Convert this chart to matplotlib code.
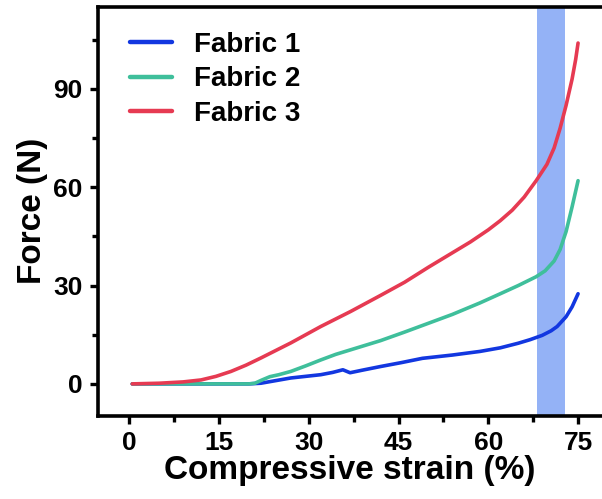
import matplotlib
matplotlib.use("Agg")
import matplotlib.pyplot as plt
from matplotlib.ticker import MultipleLocator

plt.rcParams['font.family'] = ['Liberation Sans', 'DejaVu Sans']
plt.rcParams['font.weight'] = 'bold'

# Fabric 1 (blue)
strain_1 = [0.5, 10, 20, 22, 24.5, 27, 29.5, 32, 34, 35.7, 36.9, 39, 42, 45.5, 49, 54, 58.6,
            62, 65, 67, 69, 70.5, 71.5, 73, 74, 75]
force_1 = [0, 0, 0, 0.2, 1, 1.8, 2.3, 2.8, 3.5, 4.3, 3.4, 4.2, 5.3, 6.5, 7.8, 8.8, 9.9,
           11, 12.4, 13.5, 14.8, 16.2, 17.5, 20.5, 23.5, 27.5]

# Fabric 2 (green)
strain_2 = [0.5, 10, 20, 21, 22.2, 23.5, 25, 27, 29.5, 32, 34.5, 37, 42, 46, 50, 54, 58.6,
            62, 65, 68, 69.5, 71, 72, 73, 74, 75]
force_2 = [0, 0, 0, 0.2, 1.2, 2.2, 2.8, 3.8, 5.5, 7.3, 9, 10.4, 13.2, 15.8, 18.5, 21.2, 24.7,
           27.5, 30, 32.7, 34.5, 37.5, 41, 46.5, 54, 62]

# Fabric 3 (red)
strain_3 = [0.5, 5, 9, 12, 14.5, 17, 19.5, 22, 24.5, 27, 32, 37, 42, 46, 50, 54, 57, 60,
            62, 64, 66, 68, 69.8, 71, 72, 73, 74, 74.6, 75]
force_3 = [0, 0.2, 0.6, 1.2, 2.3, 3.8, 5.7, 7.9, 10.2, 12.5, 17.5, 22.1, 27, 31, 35.6, 40, 43.3, 47,
           49.8, 53, 57, 62, 67, 72, 78, 85, 93, 99, 104]

labels = ["Fabric 1", "Fabric 2", "Fabric 3"]
colors = ["#1237e0", "#3fbf9b", "#e63a52"]
band = (68.1, 72.9)

fig = plt.figure(figsize=(6.02, 4.99), dpi=100)
ax = fig.add_axes([0.163, 0.167, 0.837, 0.819])

ax.axvspan(band[0], band[1], color="#94b2f6", lw=0, zorder=1)

for xs, ys, lab, c in zip([strain_1, strain_2, strain_3], [force_1, force_2, force_3], labels, colors):
    ax.plot(xs, ys, color=c, lw=2.6, label=lab, zorder=3, solid_capstyle='round')

ax.set_xlim(-5.2, 79)
ax.set_ylim(-9.7, 115)
ax.xaxis.set_major_locator(MultipleLocator(15))
ax.xaxis.set_minor_locator(MultipleLocator(7.5))
ax.yaxis.set_major_locator(MultipleLocator(30))
ax.yaxis.set_minor_locator(MultipleLocator(15))

for s in ['left', 'bottom', 'top']:
    ax.spines[s].set_linewidth(2.6)
ax.spines['right'].set_visible(False)

ax.tick_params(which='major', direction='out', length=6, width=2.4, labelsize=19, pad=5)
ax.tick_params(which='minor', direction='out', length=4, width=2.4)
for t in ax.get_xticklabels() + ax.get_yticklabels():
    t.set_fontweight('bold')

ax.set_xlabel("Compressive strain (%)", fontsize=24, fontweight='bold', labelpad=0)
ax.set_ylabel("Force (N)", fontsize=24, fontweight='bold', labelpad=4)

leg = ax.legend(loc='upper left', bbox_to_anchor=(0.014, 1.0), frameon=False,
                handlelength=1.5, labelspacing=0.3, handletextpad=0.8,
                prop={'weight': 'bold', 'size': 20})
for h in leg.get_lines():
    h.set_linewidth(3.2)

fig.savefig("out.png", dpi=100)
